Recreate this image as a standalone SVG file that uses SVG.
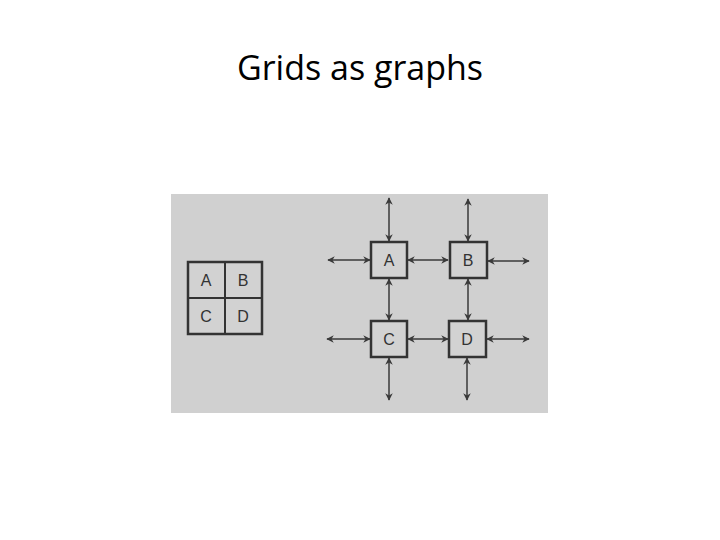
<svg xmlns="http://www.w3.org/2000/svg" width="720" height="540" viewBox="0 0 720 540">
<defs>
<marker id="ah" viewBox="0 0 10 10" refX="9" refY="5" markerWidth="5" markerHeight="5" orient="auto-start-reverse"><path d="M0,0 L10,5 L0,10 L3,5 z" fill="#3a3a3a"/></marker>
<style>
.box{fill:#d2d2d2;stroke:#333;stroke-width:2.5}
.lbl{font-family:"Liberation Sans",Arial,sans-serif;font-size:16px;fill:#333;text-anchor:middle;dominant-baseline:central}
.c line{stroke:#3a3a3a;stroke-width:1.5;marker-start:url(#ah);marker-end:url(#ah)}
</style>
</defs>
<rect width="720" height="540" fill="#fff"/>
<text x="360" y="80" font-family="'Open Sans','Liberation Sans',sans-serif" font-size="34" text-anchor="middle" fill="#000">Grids as graphs</text>
<rect x="171" y="194" width="377" height="219" fill="#d0d0d0"/>
<g id="grid">
<rect x="188" y="262" width="74" height="72" fill="#d2d2d2" stroke="#333" stroke-width="2.5"/>
<line x1="225" y1="262" x2="225" y2="334" stroke="#333" stroke-width="2"/>
<line x1="188" y1="298" x2="262" y2="298" stroke="#333" stroke-width="2"/>
<text class="lbl" x="206" y="280">A</text><text class="lbl" x="243" y="280">B</text>
<text class="lbl" x="206" y="316">C</text><text class="lbl" x="243" y="316">D</text>
</g>
<g class="c" id="connectors">
<line x1="389" y1="198" x2="389" y2="241"/>
<line x1="468" y1="199" x2="468" y2="241"/>
<line x1="328" y1="260" x2="370" y2="260"/>
<line x1="408" y1="260" x2="448" y2="260"/>
<line x1="488" y1="261" x2="529" y2="261"/>
<line x1="389" y1="279" x2="389" y2="320"/>
<line x1="468" y1="279" x2="468" y2="320"/>
<line x1="327" y1="339" x2="370" y2="339"/>
<line x1="408" y1="339" x2="448" y2="339"/>
<line x1="487" y1="339" x2="529" y2="339"/>
<line x1="389" y1="358" x2="389" y2="400"/>
<line x1="467" y1="358" x2="467" y2="400"/>
</g>
<g id="A"><rect class="box" x="371" y="242" width="36" height="36"/><text class="lbl" x="389" y="260">A</text></g>
<g id="B"><rect class="box" x="450" y="242" width="37" height="36"/><text class="lbl" x="468" y="260">B</text></g>
<g id="C"><rect class="box" x="371" y="321" width="36" height="36"/><text class="lbl" x="389" y="339">C</text></g>
<g id="D"><rect class="box" x="449" y="321" width="37" height="36"/><text class="lbl" x="467" y="339">D</text></g>
</svg>
